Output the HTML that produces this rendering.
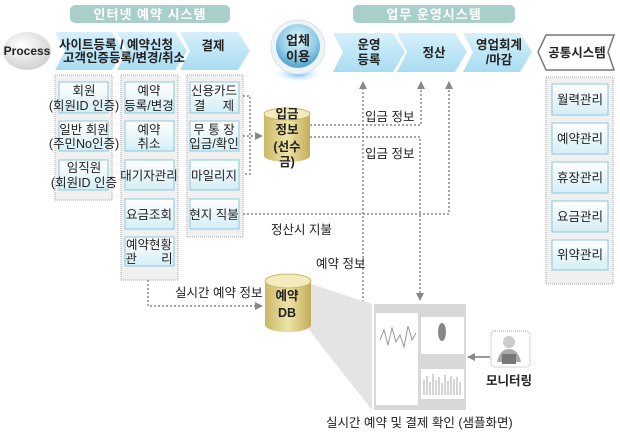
<!DOCTYPE html>
<html><head><meta charset="utf-8"><style>
html,body{margin:0;padding:0;background:#fff;}
svg{display:block;font-family:"Liberation Sans","Noto Sans CJK KR","NanumGothic",sans-serif;}
</style></head><body>
<svg width="620" height="437" viewBox="0 0 620 437" xmlns="http://www.w3.org/2000/svg">
<defs>
<linearGradient id="chev" x1="0" y1="0" x2="0" y2="1"><stop offset="0" stop-color="#d6f0fb"/><stop offset="1" stop-color="#a9dcf2"/></linearGradient>
<linearGradient id="box" x1="0" y1="0" x2="0" y2="1"><stop offset="0" stop-color="#ffffff"/><stop offset="1" stop-color="#d4eef6"/></linearGradient>
<linearGradient id="cyl" x1="0" y1="0" x2="1" y2="0"><stop offset="0" stop-color="#c9b767"/><stop offset=".5" stop-color="#efe4a6"/><stop offset="1" stop-color="#c2ad5a"/></linearGradient>
<radialGradient id="ball" cx=".5" cy=".35" r=".6"><stop offset="0" stop-color="#e6f6fc"/><stop offset=".7" stop-color="#8fcbe6"/><stop offset="1" stop-color="#5aa9d1"/></radialGradient>
<radialGradient id="glow" cx=".5" cy=".5" r=".5"><stop offset="0" stop-color="#6fb3f0"/><stop offset="1" stop-color="#fff" stop-opacity="0"/></radialGradient>
<radialGradient id="proc" cx=".4" cy=".35" r=".7"><stop offset="0" stop-color="#fff"/><stop offset="1" stop-color="#cfcfcf"/></radialGradient>
<marker id="ar" markerWidth="8" markerHeight="8" refX="7" refY="4" orient="auto" markerUnits="userSpaceOnUse"><path d="M0,0 L8,4 L0,8z" fill="#888"/></marker>
</defs>
<g font-size="12.5" fill="#222">
<rect x="70" y="5" width="160" height="18" rx="5" fill="#a9cfca"/>
<text x="150" y="19" text-anchor="middle" fill="#fff" font-weight="bold" font-size="13" letter-spacing="1">인터넷 예약 시스템</text>
<rect x="353" y="5" width="162" height="18" rx="5" fill="#a9cfca"/>
<text x="434" y="19" text-anchor="middle" fill="#fff" font-weight="bold" font-size="13" letter-spacing="1">업무 운영시스템</text>
<ellipse cx="27" cy="51" rx="24" ry="19" fill="url(#proc)"/>
<text x="27" y="55" text-anchor="middle" font-weight="bold" font-size="12">Process</text>
<path d="M55,32 L112,32 L124,51 L112,70 L55,70 L65,51z" fill="url(#chev)"/>
<path d="M117,32 L175,32 L187,51 L175,70 L117,70 L127,51z" fill="url(#chev)"/>
<path d="M180,32 L238,32 L250,51 L238,70 L180,70 L190,51z" fill="url(#chev)"/>
<text x="116" y="49" text-anchor="middle" font-weight="bold">사이트등록 / 예약신청</text>
<text x="124" y="62" text-anchor="middle" font-weight="bold">고객인증등록/변경/취소</text>
<text x="213" y="50" text-anchor="middle" font-weight="bold">결제</text>
<ellipse cx="298" cy="74" rx="26" ry="9" fill="url(#glow)"/>
<circle cx="298" cy="47" r="27" fill="#eef4f6" stroke="#d6e3e8"/>
<circle cx="298" cy="46" r="22" fill="url(#ball)"/>
<text x="298" y="45" text-anchor="middle" font-weight="bold" font-size="13">업체</text>
<text x="298" y="61" text-anchor="middle" font-weight="bold" font-size="13">이용</text>
<path d="M333,33 L393,33 L405,52 L393,72 L333,72 L343,52z" fill="url(#chev)"/>
<path d="M397,33 L455,33 L467,52 L455,72 L397,72 L407,52z" fill="url(#chev)"/>
<path d="M463,33 L520,33 L532,52 L520,72 L463,72 L473,52z" fill="url(#chev)"/>
<text x="369" y="49" text-anchor="middle" font-weight="bold">운영</text>
<text x="369" y="64" text-anchor="middle" font-weight="bold">등록</text>
<text x="434" y="57" text-anchor="middle" font-weight="bold">정산</text>
<text x="499" y="49" text-anchor="middle" font-weight="bold">영업회계</text>
<text x="499" y="64" text-anchor="middle" font-weight="bold">/마감</text>
<path d="M546,35 L614,35 L608,52 L614,70 L546,70 L538,52z" fill="#fff" stroke="#777" stroke-width="1.5"/>
<text x="577" y="57" text-anchor="middle" font-weight="bold">공통시스템</text>
<g fill="#f0f0f0" stroke="#aaa" stroke-dasharray="1,1">
<rect x="55" y="75" width="57" height="125"/>
<rect x="121" y="75" width="57" height="205"/>
<rect x="187" y="75" width="56" height="162"/>
<rect x="546" y="77" width="67" height="207"/>
</g>
<g fill="url(#box)" stroke="#8cc7dd">
<rect x="59" y="82" width="49" height="31"/><rect x="59" y="121" width="49" height="30"/><rect x="59" y="160" width="49" height="30"/>
<rect x="125" y="82" width="49" height="31"/><rect x="125" y="121" width="49" height="30"/><rect x="125" y="160" width="49" height="30"/><rect x="125" y="199" width="49" height="30"/><rect x="125" y="237" width="49" height="29"/>
<rect x="190" y="82" width="49" height="31"/><rect x="190" y="121" width="49" height="30"/><rect x="190" y="160" width="49" height="30"/><rect x="190" y="199" width="49" height="30"/>
<rect x="552" y="84" width="56" height="31"/><rect x="552" y="123" width="56" height="31"/><rect x="552" y="162" width="56" height="31"/><rect x="552" y="201" width="56" height="31"/><rect x="552" y="240" width="56" height="30"/>
</g>
<g text-anchor="middle">
<text x="84" y="95">회원</text><text x="84" y="110">(회원ID 인증)</text>
<text x="84" y="134">일반 회원</text><text x="84" y="148">(주민No인증)</text>
<text x="84" y="172">임직원</text><text x="84" y="187">(회원ID 인증</text>
<text x="149" y="95">예약</text><text x="149" y="110">등록/변경</text>
<text x="149" y="134">예약</text><text x="149" y="148">취소</text>
<text x="149" y="180">대기자관리</text>
<text x="149" y="219">요금조회</text>
<text x="149" y="249">예약현황</text><text x="149" y="263">관&#160;&#160;&#160;&#160;&#160;&#160;&#160;리</text>
<text x="214" y="95">신용카드</text><text x="214" y="110">결&#160;&#160;&#160;&#160;&#160;제</text>
<text x="214" y="134">무 통 장</text><text x="214" y="148">입금/확인</text>
<text x="214" y="180">마일리지</text>
<text x="214" y="219">현지 직불</text>
<text x="580" y="104">월력관리</text><text x="580" y="143">예약관리</text><text x="580" y="182">휴장관리</text><text x="580" y="221">요금관리</text><text x="580" y="259">위약관리</text>
</g>
<g fill="none" stroke="#888" stroke-width="1.5" stroke-dasharray="2,2">
<path d="M243,96 L250,96 L250,174 L243,174"/>
<path d="M243,136 L262,136" marker-end="url(#ar)"/>
<path d="M310,125 L421,125 L421,82" marker-end="url(#ar)"/>
<path d="M310,137 L420,137 L420,300" marker-end="url(#ar)"/>
<path d="M243,214 L449,214 L449,82" marker-end="url(#ar)"/>
<path d="M311,306 L363,306 L363,82" marker-end="url(#ar)"/>
<path d="M148,280 L148,306 L262,306" marker-end="url(#ar)"/>
</g>
<path d="M264,114 L264,156 A23,6 0 0 0 310,156 L310,114z" fill="url(#cyl)"/>
<ellipse cx="287" cy="114" rx="23" ry="6" fill="#f3ebbd" stroke="#c9b767"/>
<g text-anchor="middle" font-weight="bold"><text x="287" y="118">입금</text><text x="287" y="134">정보</text><text x="287" y="151">(선수</text><text x="287" y="166">금)</text></g>
<path d="M305,282 L372,304 L372,410 L305,325z" fill="#e4e4e4"/>
<path d="M265,281 L265,325 A23,7 0 0 0 311,325 L311,281z" fill="url(#cyl)"/>
<ellipse cx="288" cy="281" rx="23" ry="7" fill="#f3ebbd" stroke="#c9b767"/>
<g text-anchor="middle" font-weight="bold"><text x="287" y="300">예약</text><text x="287" y="317">DB</text></g>
<rect x="374" y="304" width="92" height="106" fill="#d8d8d8"/>
<rect x="376" y="313" width="42" height="92" fill="#fff"/>
<rect x="421" y="317" width="43" height="37" fill="#fff"/>
<rect x="421" y="369" width="43" height="30" fill="#fff"/>
<polyline points="380,340 384,330 388,345 392,328 396,342 400,335 404,347 408,326 412,340 416,333" fill="none" stroke="#999"/>
<ellipse cx="442" cy="332" rx="4" ry="9" fill="#888"/>
<g stroke="#aaa"><path d="M424,395 V380 M427,395 V376 M430,395 V382 M433,395 V374 M436,395 V380 M439,395 V377 M442,395 V383 M445,395 V375 M448,395 V381 M451,395 V376 M454,395 V379 M457,395 V377 M460,395 V382"/></g>
<rect x="491" y="331" width="39" height="36" rx="4" fill="#fff" stroke="#aaa" stroke-dasharray="1,1"/>
<circle cx="509" cy="342" r="6" fill="#ccc"/>
<path d="M497,362 Q500,349 509,349 Q518,349 521,362z" fill="#aaa"/>
<rect x="502" y="354" width="14" height="10" fill="#777"/>
<text x="509" y="385" text-anchor="middle" font-weight="bold">모니터링</text>
<path d="M490,357 L468,357" stroke="#999" stroke-width="2" marker-end="url(#ar)"/>
<text x="365" y="121">입금 정보</text>
<text x="365" y="158">입금 정보</text>
<text x="271" y="234">정산시 지불</text>
<text x="316" y="268">예약 정보</text>
<text x="175" y="297">실시간 예약 정보</text>
<text x="326" y="427">실시간 예약 및 결제 확인 (샘플화면)</text>
</g>
</svg>
</body></html>
